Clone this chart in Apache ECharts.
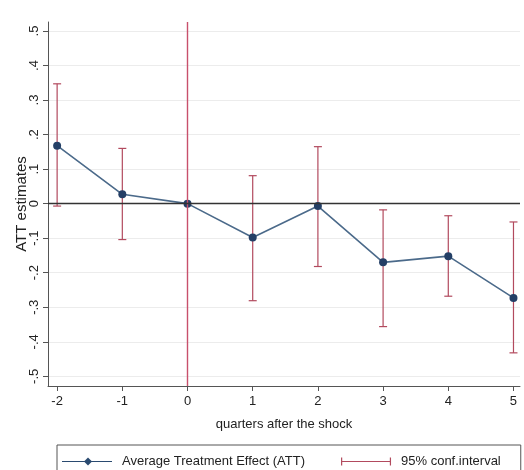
<!DOCTYPE html>
<html>
<head>
<meta charset="utf-8">
<script src="https://cdn.jsdelivr.net/npm/echarts@6/dist/echarts.min.js"></script>
<style>html,body{margin:0;padding:0;background:#fff}#c{width:524px;height:470px}</style>
</head>
<body>
<div id="c"></div>
<script>
const quarters = [-2, -1, 0, 1, 2, 3, 4, 5];
const att = [0.168, 0.027, 0, -0.098, -0.007, -0.170, -0.152, -0.273];
const ciUpper = [0.347, 0.160, null, 0.081, 0.165, -0.018, -0.035, -0.053];
const ciLower = [-0.007, -0.104, null, -0.281, -0.182, -0.356, -0.268, -0.432];
const yTicks = [-0.5, -0.4, -0.3, -0.2, -0.1, 0, 0.1, 0.2, 0.3, 0.4, 0.5];
const xTicks = [-2, -1, 0, 1, 2, 3, 4, 5];
const shockQuarter = 0;
const zeroLevel = 0;

const fmtY = v => {
  if (Math.abs(v) < 1e-9) return '0';
  const s = (Math.round(v * 10) / 10).toString();
  return s.replace('0.', '.');
};

const ciData = quarters.map((q, i) => [q, ciLower[i], ciUpper[i]]).filter(d => d[1] != null);
const attData = quarters.map((q, i) => [q, att[i]]);

const chart = echarts.init(document.getElementById('c'), null, {renderer: 'canvas'});
const FONT = 'Liberation Sans, Arial, sans-serif';
chart.setOption({
  animation: false,
  backgroundColor: '#ffffff',
  grid: {left: 48, right: 4, top: 22, bottom: 84, outerBoundsMode: 'none', containLabel: false},
  legend: {
    left: 57, top: 445,
    padding: [10, 20, 10, 5],
    itemGap: 36,
    itemWidth: 50, itemHeight: 12,
    borderColor: '#555', borderWidth: 1,
    textStyle: {fontFamily: FONT, fontSize: 13, color: '#222', padding: [0, 0, 0, 5]},
    data: [
      {name: 'Average Treatment Effect (ATT)', icon: 'path://M0,5.4 L50,5.4 L50,6.6 L0,6.6 Z M26,2 L30,6 L26,10 L22,6 Z', itemStyle: {color: '#2a4a70'}},
      {name: '95% conf.interval', icon: 'path://M0,2 L1.2,2 L1.2,5.4 L48.8,5.4 L48.8,2 L50,2 L50,10 L48.8,10 L48.8,6.6 L1.2,6.6 L1.2,10 L0,10 Z', itemStyle: {color: '#b24a5e'}}
    ]
  },
  xAxis: {
    type: 'value', min: -2.14, max: 5.1,
    name: 'quarters after the shock', nameLocation: 'middle', nameGap: 32, nameMoveOverlap: false,
    nameTextStyle: {fontFamily: FONT, fontSize: 13, color: '#222'},
    axisLine: {show: true, onZero: false, lineStyle: {color: '#555', width: 1}},
    axisTick: {show: true, length: 5, customValues: xTicks, lineStyle: {color: '#555'}},
    axisLabel: {customValues: xTicks, fontFamily: FONT, fontSize: 13, color: '#222', margin: 9},
    splitLine: {show: false}
  },
  yAxis: {
    type: 'value', min: -0.528, max: 0.526,
    name: 'ATT estimates', nameLocation: 'middle', nameGap: 19, nameMoveOverlap: false,
    nameTextStyle: {fontFamily: FONT, fontSize: 15, color: '#222'},
    axisLine: {show: true, onZero: false, lineStyle: {color: '#555', width: 1}},
    axisTick: {show: true, length: 5, customValues: yTicks, lineStyle: {color: '#555'}},
    axisLabel: {customValues: yTicks, rotate: 90, fontFamily: FONT, fontSize: 13, color: '#222', margin: 7, formatter: fmtY},
    splitLine: {show: true, customValues: yTicks, lineStyle: {color: '#ececec', width: 1}}
  },
  series: [
    {
      name: '95% conf.interval',
      type: 'custom',
      data: ciData,
      encode: {x: 0, y: [1, 2]},
      z: 2,
      renderItem: function (params, api) {
        const x = api.value(0);
        const lo = api.coord([x, api.value(1)]);
        const hi = api.coord([x, api.value(2)]);
        const hw = 4;
        const style = {stroke: '#b24a5e', lineWidth: 1.2, fill: null};
        return {
          type: 'group',
          children: [
            {type: 'line', shape: {x1: lo[0], y1: lo[1], x2: hi[0], y2: hi[1]}, style: style},
            {type: 'line', shape: {x1: lo[0] - hw, y1: lo[1], x2: lo[0] + hw, y2: lo[1]}, style: style},
            {type: 'line', shape: {x1: hi[0] - hw, y1: hi[1], x2: hi[0] + hw, y2: hi[1]}, style: style}
          ]
        };
      }
    },
    {
      name: 'Average Treatment Effect (ATT)',
      type: 'line',
      data: attData,
      z: 4,
      symbol: 'circle', symbolSize: 8,
      lineStyle: {color: '#4b6a8a', width: 1.6},
      itemStyle: {color: '#243f66'},
      markLine: {
        silent: true, symbol: 'none', label: {show: false},
        data: [
          {xAxis: shockQuarter, lineStyle: {color: '#c8506c', width: 1.4, type: 'solid'}},
          {yAxis: zeroLevel, lineStyle: {color: '#333', width: 1.4, type: 'solid'}}
        ]
      }
    }
  ]
});
</script>
</body>
</html>
